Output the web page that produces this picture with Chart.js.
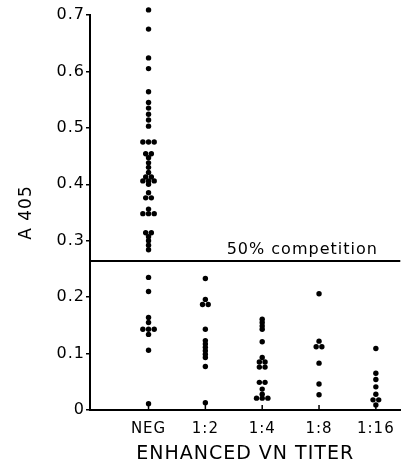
<!DOCTYPE html>
<html><head><meta charset="utf-8">
<script src="https://cdn.jsdelivr.net/npm/chart.js@4"></script>
<style>html,body{margin:0;padding:0;background:#fff}canvas{display:block}</style>
</head><body>
<canvas id="c" width="403" height="465"></canvas>
<script>
// ---- data ----
const categories = ['NEG', '1:2', '1:4', '1:8', '1:16'];
const negValues = [0.709, 0.675, 0.624, 0.605, 0.564, 0.545, 0.535, 0.524, 0.514, 0.503,
  0.475, 0.475, 0.475, 0.454, 0.454, 0.447, 0.438, 0.430, 0.421, 0.413, 0.413,
  0.406, 0.406, 0.406, 0.400, 0.385, 0.376, 0.376, 0.356, 0.348, 0.348, 0.348,
  0.314, 0.314, 0.307, 0.300, 0.292, 0.284, 0.235, 0.210, 0.164, 0.155,
  0.143, 0.143, 0.143, 0.134, 0.106, 0.011];
const titer2Values = [0.233, 0.196, 0.187, 0.187, 0.143, 0.123, 0.117, 0.111, 0.105, 0.099, 0.093, 0.077, 0.013];
const titer4Values = [0.161, 0.155, 0.149, 0.143, 0.121, 0.093, 0.085, 0.085, 0.076, 0.076,
  0.049, 0.049, 0.037, 0.028, 0.021, 0.021, 0.021];
const titer8Values = [0.206, 0.122, 0.112, 0.112, 0.083, 0.046, 0.027];
const titer16Values = [0.109, 0.065, 0.054, 0.041, 0.028, 0.018, 0.018, 0.009];
const seriesValues = [negValues, titer2Values, titer4Values, titer8Values, titer16Values];
const yTickValues = [0, 0.1, 0.2, 0.3, 0.4, 0.5, 0.6, 0.7];
const competitionLevel = 0.264;
const competitionLabel = '50% competition';
const yTitle = 'A 405';
const xTitle = 'ENHANCED VN TITER';

// ---- build points: equal values in a column are spread side by side ----
const SPREAD = 0.1;
const points = [];
seriesValues.forEach((vals, ci) => {
  const counts = {};
  vals.forEach(v => { counts[v] = (counts[v] || 0) + 1; });
  const seen = {};
  vals.forEach(v => {
    const n = counts[v];
    const k = seen[v] || 0; seen[v] = k + 1;
    points.push({ x: ci + 1 + (k - (n - 1) / 2) * SPREAD, y: v });
  });
});

const FONT = '"DejaVu Sans", sans-serif';

const spacing = {
  id: 'spacing',
  beforeUpdate(c) { c.ctx.letterSpacing = '1px'; },
  beforeLayout(c) { c.ctx.letterSpacing = '1px'; },
  beforeDraw(c) { c.ctx.letterSpacing = '1px'; }
};

// let points just above the top of the axis still be drawn
const unclip = {
  id: 'unclip',
  beforeDatasetsDraw(chart) {
    chart.$savedArea = chart.chartArea;
    chart.chartArea = Object.assign({}, chart.chartArea, { top: chart.chartArea.top - 15 });
  },
  afterDatasetsDraw(chart) {
    if (chart.$savedArea) chart.chartArea = chart.$savedArea;
  }
};

const annot = {
  id: 'annot',
  afterDatasetsDraw(chart) {
    const { ctx, chartArea, scales: { x, y } } = chart;
    ctx.save();
    ctx.strokeStyle = '#000';
    ctx.lineWidth = 2;
    const ly = y.getPixelForValue(competitionLevel);
    ctx.beginPath(); ctx.moveTo(chartArea.left, ly); ctx.lineTo(chartArea.right, ly); ctx.stroke();
    ctx.font = '16px ' + FONT;
    ctx.fillStyle = '#000';
    ctx.textAlign = 'right';
    ctx.textBaseline = 'alphabetic';
    ctx.fillText(competitionLabel, x.getPixelForValue(categories.length) + 2, ly - 7);
    ctx.lineWidth = 1.5;
    categories.forEach((c, i) => {
      const px = x.getPixelForValue(i + 1);
      ctx.beginPath(); ctx.moveTo(px, chartArea.bottom); ctx.lineTo(px, chartArea.bottom - 5); ctx.stroke();
    });
    ctx.restore();
  }
};

new Chart(document.getElementById('c'), {
  type: 'scatter',
  data: {
    datasets: [{
      data: points,
      pointRadius: 2.7,
      pointHoverRadius: 2.7,
      backgroundColor: '#000',
      borderWidth: 0,
      clip: false
    }]
  },
  options: {
    responsive: false,
    animation: false,
    events: [],
    layout: { padding: { top: 15, right: 0, left: 0, bottom: 0 } },
    plugins: { legend: { display: false }, tooltip: { enabled: false } },
    scales: {
      x: {
        type: 'linear',
        min: -0.03, max: 5.43,
        afterFit(s) { s.height = 55; },
        afterBuildTicks(s) { s.ticks = categories.map((c, i) => ({ value: i + 1 })); },
        grid: { display: false },
        border: { display: true, color: '#000', width: 2 },
        ticks: {
          color: '#000', padding: 2, maxRotation: 0, autoSkip: false,
          font: { family: FONT, size: 15 },
          callback: (v, i) => categories[i]
        },
        title: {
          display: true, text: xTitle, color: '#000',
          font: { family: FONT, size: 19 }, padding: { top: 0, bottom: 0 }
        }
      },
      y: {
        type: 'linear',
        min: 0, max: 0.7,
        afterFit(s) { s.width = 90; },
        afterBuildTicks(s) { s.ticks = yTickValues.map(v => ({ value: v })); },
        grid: { drawOnChartArea: false, drawTicks: true, tickLength: 4, color: '#000', lineWidth: 1.5 },
        border: { display: true, color: '#000', width: 2 },
        ticks: {
          color: '#000', padding: 1,
          font: { family: FONT, size: 16 },
          callback: v => v === 0 ? '0' : v.toFixed(1)
        },
        title: {
          display: true, text: yTitle, color: '#000',
          font: { family: FONT, size: 17 }, padding: { top: 16, bottom: 0 }
        }
      }
    }
  },
  plugins: [spacing, unclip, annot]
});
</script>
</body></html>
